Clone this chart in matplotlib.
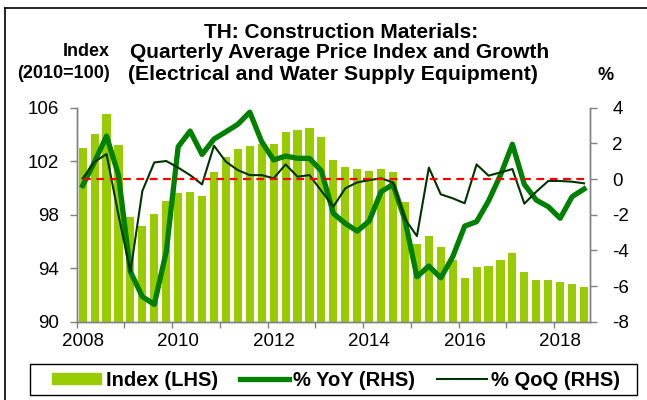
import matplotlib
matplotlib.use("Agg")
import matplotlib.pyplot as plt
from matplotlib.lines import Line2D
from matplotlib.patches import Rectangle
import numpy as np

plt.rcParams['font.family'] = ['Liberation Sans', 'DejaVu Sans']
plt.rcParams['axes.unicode_minus'] = False

quarters = [f"{y}Q{q}" for y in range(2008, 2019) for q in range(1, 5)][:43]

index_lhs = [103.0, 104.0, 105.5, 103.2, 97.8, 97.15, 98.05, 99.0,
             99.6, 99.7, 99.4, 101.2, 102.3, 102.9, 103.1, 103.3,
             103.3, 104.2, 104.3, 104.5, 103.8, 102.1, 101.6, 101.4,
             101.3, 101.4, 101.2, 98.95, 95.8, 96.4, 95.6, 94.6,
             93.3, 94.1, 94.2, 94.6, 95.1, 93.7, 93.1, 93.1,
             93.0, 92.8, 92.6]

yoy = [-0.37, 0.97, 2.41, 0.22, -5.2, -6.6, -7.03, -4.08,
       1.81, 2.69, 1.38, 2.24, 2.65, 3.07, 3.75, 2.09,
       1.07, 1.29, 1.16, 1.16, 0.45, -1.93, -2.49, -2.92,
       -2.36, -0.71, -0.3, -2.3, -5.48, -4.88, -5.54, -4.36,
       -2.64, -2.39, -1.23, 0.22, 1.95, -0.3, -1.18, -1.55,
       -2.2, -0.99, -0.56]

qoq = [0.04, 0.97, 1.4, -2.02, -5.2, -0.67, 0.93, 1.01,
       0.64, 0.22, -0.3, 1.87, 0.97, 0.5, 0.22, 0.22,
       0.04, 0.82, 0.13, 0.22, -0.67, -1.55, -0.52, -0.19,
       -0.06, 0.04, -0.19, -2.24, -3.2, 0.64, -0.86, -1.08,
       -1.36, 0.82, 0.19, 0.37, 0.56, -1.38, -0.71, -0.11,
       -0.11, -0.15, -0.24]

year_labels = ["2008", "2010", "2012", "2014", "2016", "2018"]

W, H = 647, 400
fig = plt.figure(figsize=(W / 100, H / 100), dpi=100)

def fx(px):
    return px / W

def fy(py):
    return 1 - py / H

ax = fig.add_axes([fx(76.7), fy(321.7), fx(590 - 76.7), (321.7 - 107.7) / H])
ax2 = ax.twinx()

x = np.arange(len(quarters))
bar_col = '#99CC00'
ax.bar(x, index_lhs, width=0.68, color=bar_col, zorder=2)
ax.set_ylim(90, 106)
ax.set_yticks([90, 94, 98, 102, 106])
ax.set_xlim(-0.5, len(quarters) - 0.5)

ax2.set_ylim(-8, 4)
ax2.set_yticks([-8, -6, -4, -2, 0, 2, 4])
ax2.plot(x, [0] * len(x), color='#FF0000', lw=1.6, ls=(0, (3.5, 2.5)), zorder=5)
ax2.plot(x, yoy, color='#008000', lw=3.8, zorder=3)
ax2.plot(x, qoq, color='#003300', lw=1.5, zorder=4)

grey = '#808080'
for a in (ax, ax2):
    a.spines['top'].set_visible(False)
    for s in ('left', 'right', 'bottom'):
        a.spines[s].set_color(grey)
        a.spines[s].set_linewidth(1.0)

ax.tick_params(axis='y', direction='out', length=5, width=1, color=grey,
               labelsize=13.5, pad=8)
ax2.tick_params(axis='y', direction='out', length=5, width=1, color=grey,
                labelsize=13.5, pad=11)

label_pos = [quarters.index(f"{y}Q1") for y in year_labels]
ax.set_xticks(label_pos)
ax.set_xticklabels(year_labels)
ax.set_xticks(np.arange(-0.5, len(quarters), 4), minor=True)
ax.tick_params(axis='x', which='major', length=0, labelsize=13.5, pad=8)
ax.tick_params(axis='x', which='minor', direction='out', length=4, width=1, color=grey)

# titles
tkw = dict(ha='center', va='center', fontweight='bold')
fig.text(fx(341), fy(33), "TH: Construction Materials:", fontsize=15, **tkw)
fig.text(fx(340), fy(53), "Quarterly Average Price Index and Growth", fontsize=15, **tkw)
fig.text(fx(333), fy(74), "(Electrical and Water Supply Equipment)", fontsize=15.3, **tkw)
fig.text(fx(86), fy(52), "Index", fontsize=13, **tkw)
fig.text(fx(64), fy(73), "(2010=100)", fontsize=13, **tkw)
fig.text(fx(606), fy(76), "%", fontsize=13, **tkw)

# border
fig.add_artist(Line2D([fx(5), fx(5)], [fy(8), 0], color='black', lw=1.2))
fig.add_artist(Line2D([fx(5), 1], [fy(8), fy(8)], color='black', lw=1.2))

# legend frame
fig.add_artist(Rectangle((fx(30), fy(395)), fx(637 - 30), (395 - 364) / H,
                         transform=fig.transFigure, fill=False,
                         edgecolor='black', lw=1.0))

handles = [plt.Rectangle((0, 0), 1, 1, color=bar_col),
           Line2D([], [], color='#008000', lw=3.8),
           Line2D([], [], color='#003300', lw=1.5)]
labels = ["Index (LHS)", "% YoY (RHS)", "% QoQ (RHS)"]
leg = fig.legend(handles, labels, loc='center', bbox_to_anchor=(fx(336), fy(380)),
                 ncol=3, frameon=False,
                 prop={'weight': 'bold', 'size': 14.5}, handlelength=2.45,
                 handleheight=0.5, columnspacing=1.08, handletextpad=0.22,
                 borderpad=0.2)

fig.savefig("out.png", dpi=100)
